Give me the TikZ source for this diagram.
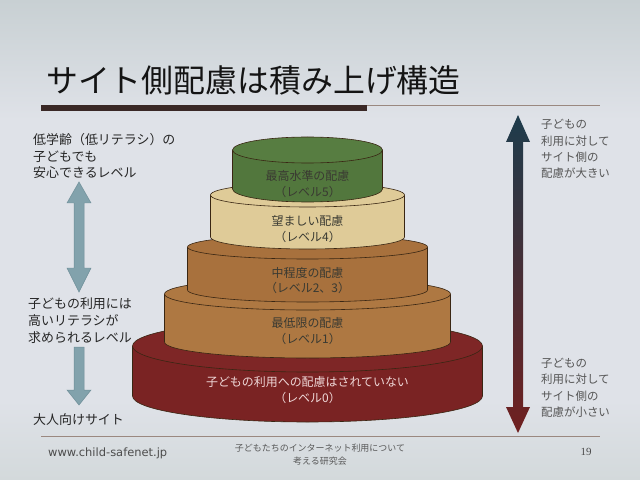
\documentclass[tikz,border=0pt]{standalone}
\usepackage{fontspec}
\setmainfont{Noto Sans CJK JP}
\newfontfamily\jp{Noto Sans CJK JP}
\newfontfamily\urlfont{DejaVu Sans}
\newfontfamily\numfont{Liberation Serif}
\usetikzlibrary{shadings}
\definecolor{bgmid}{HTML}{DFE2E8}
\definecolor{bgtop}{HTML}{C8D0D3}
\definecolor{bgbot}{HTML}{D3D9DB}
\definecolor{rulecol}{HTML}{9A8880}
\definecolor{barcol}{HTML}{3A2826}
\definecolor{arrowcol}{HTML}{82A2AC}
\definecolor{arrowedge}{HTML}{6E8E98}
\definecolor{gtop}{HTML}{1E3C4C}
\definecolor{gmid}{HTML}{2E2F3C}
\definecolor{gbot}{HTML}{702020}
\definecolor{lvzero}{HTML}{7A2323}
\definecolor{lvzerotop}{HTML}{7E2626}
\definecolor{lvone}{HTML}{AE7842}
\definecolor{lvtwo}{HTML}{A8713D}
\definecolor{lvfour}{HTML}{DFCB98}
\definecolor{lvfive}{HTML}{52773D}
\definecolor{lvfivetop}{HTML}{577D41}
\definecolor{lbltext}{HTML}{3A3A32}
\definecolor{sidetext}{HTML}{555555}
\definecolor{zerotext}{HTML}{EFD8D8}
\tikzset{
  cylline/.style={draw=black!70!brown, line width=0.6pt},
  lefttext/.style={anchor=west, inner sep=0pt, align=left, text=black!85, font=\jp\fontsize{13}{17}\selectfont},
  righttext/.style={anchor=west, inner sep=0pt, align=left, text=sidetext, font=\jp\fontsize{11.5}{16.5}\selectfont},
  lvlabel/.style={anchor=center, inner sep=0pt, align=center, text=lbltext, font=\jp\fontsize{12}{15.5}\selectfont},
  blockarrow/.style={fill=arrowcol, draw=arrowedge, line width=0.5pt}
}
\newcommand\drawcyl[7]{%
  \fill[#6] (#1-#4,#2) -- (#1-#4,#3) arc[start angle=180,end angle=360,x radius=#4bp,y radius=#5bp] -- (#1+#4,#2) -- cycle;
  \draw[cylline] (#1-#4,#2) -- (#1-#4,#3) arc[start angle=180,end angle=360,x radius=#4bp,y radius=#5bp] -- (#1+#4,#2);
  \filldraw[fill=#7, cylline] (#1,#2) ellipse [x radius=#4bp, y radius=#5bp];
}
\begin{document}
\begin{tikzpicture}[x=1bp,y=-1bp]
\useasboundingbox (0,0) rectangle (640,480);
% background
\shade[top color=bgtop, bottom color=bgmid] (0,0) rectangle (640,120);
\fill[bgmid] (0,120) rectangle (640,400);
\shade[top color=bgmid, bottom color=bgbot] (0,400) rectangle (640,480);

% title
\node[anchor=west, inner sep=0pt, text=black!92, font=\jp\fontsize{32}{36}\selectfont] (title) at (46,80) {サイト側配慮は積み上げ構造};
\fill[barcol] (41,105) rectangle (367,111.5);
\draw[rulecol, line width=1pt] (367,105.5) -- (600,105.5);

% footer rule and texts
\draw[rulecol, line width=1pt] (41,436.5) -- (600,436.5);
\node[anchor=west, inner sep=0pt, text=black!70, font=\urlfont\fontsize{11.5}{13}\selectfont] (url) at (48,453) {www.child-safenet.jp};
\node[anchor=center, inner sep=0pt, align=center, text=black!65, font=\jp\fontsize{9}{13}\selectfont] (org) at (320,455) {子どもたちのインターネット利用について\\考える研究会};
\node[anchor=center, inner sep=0pt, text=black!70, font=\numfont\fontsize{11}{13}\selectfont] (page) at (586,452) {19};

% cylinders (bottom to top)
\drawcyl{307.5}{346}{396}{175}{26}{lvzero}{lvzerotop}
\drawcyl{307.5}{294}{342}{143}{16}{lvone}{lvone}
\drawcyl{307.5}{247}{290}{120}{12}{lvtwo}{lvtwo}
\drawcyl{307.5}{195}{237}{97}{12}{lvfour}{lvfour}
\drawcyl{307.5}{150}{189}{75}{13}{lvfive}{lvfivetop}

% level labels
\node[lvlabel] (l5) at (307.5,184) {最高水準の配慮\\（レベル5）};
\node[lvlabel] (l4) at (307.5,229) {望ましい配慮\\（レベル4）};
\node[lvlabel] (l23) at (307.5,280.5) {中程度の配慮\\（レベル2、3）};
\node[lvlabel] (l1) at (307.5,331) {最低限の配慮\\（レベル1）};
\node[lvlabel, text=zerotext] (l0) at (307.5,390) {子どもの利用への配慮はされていない\\（レベル0）};

% left texts
\node[lefttext] (safe) at (33,156) {低学齢（低リテラシ）の\\子どもでも\\安心できるレベル};
\node[lefttext] (lit) at (28,321) {子どもの利用には\\高いリテラシが\\求められるレベル};
\node[lefttext] (adult) at (33,420) {大人向けサイト};

% left arrows
\path[blockarrow] (79,182) -- (91,203) -- (84,203) -- (84,268) -- (91,268) -- (79,292) -- (67,268) -- (74,268) -- (74,203) -- (67,203) -- cycle;
\path[blockarrow] (74,347) -- (84,347) -- (84,390) -- (91,390) -- (79,405) -- (67,390) -- (74,390) -- cycle;

% right gradient arrow
\shade[top color=gtop, middle color=gmid, bottom color=gbot] (518,115) -- (530,142) -- (523,142) -- (523,407) -- (530,407) -- (518,433) -- (506,407) -- (513,407) -- (513,142) -- (506,142) -- cycle;

% right texts
\node[righttext] (big) at (541,149) {子どもの\\利用に対して\\サイト側の\\配慮が大きい};
\node[righttext] (small) at (541,388) {子どもの\\利用に対して\\サイト側の\\配慮が小さい};
\end{tikzpicture}
\end{document}
